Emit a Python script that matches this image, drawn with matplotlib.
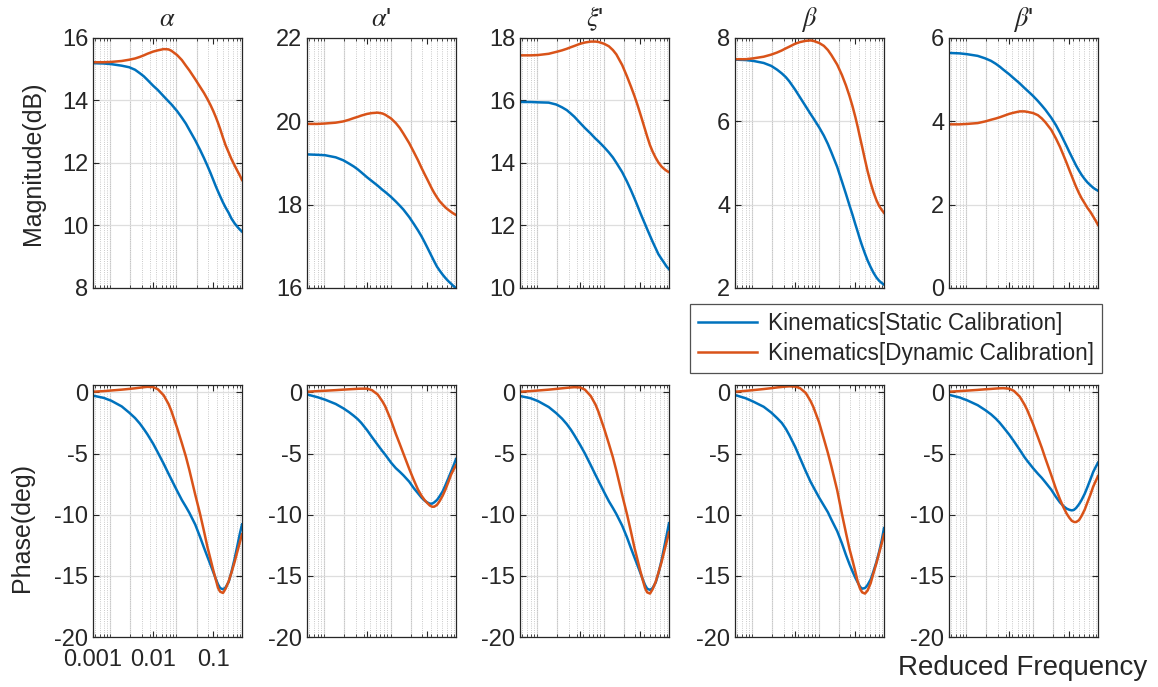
import numpy as np
import matplotlib.pyplot as plt
from matplotlib.ticker import NullFormatter, FixedLocator

plt.rcParams['font.family'] = ['Liberation Sans', 'DejaVu Sans']
plt.rcParams['mathtext.fontset'] = 'stix'
plt.rcParams['axes.unicode_minus'] = False

# ---------- data ----------
freq = [0.001, 0.0015, 0.002, 0.003, 0.004, 0.005, 0.006, 0.007, 0.008, 0.01,
        0.012, 0.015, 0.018, 0.02, 0.025, 0.03, 0.035, 0.04, 0.05, 0.06,
        0.07, 0.08, 0.09, 0.1, 0.11, 0.12, 0.13, 0.145, 0.16, 0.18,
        0.2, 0.225, 0.25, 0.275, 0.3]

titles = [r'$\alpha$', r"$\alpha$'", r"$\xi$'", r'$\beta$', r"$\beta$'"]

# magnitude (dB)
mag_static_alpha = [15.18, 15.17, 15.15, 15.10, 15.05, 14.97, 14.86, 14.76, 14.65, 14.46,
                    14.32, 14.12, 13.96, 13.87, 13.65, 13.44, 13.25, 13.05, 12.72, 12.42,
                    12.15, 11.90, 11.67, 11.45, 11.25, 11.08, 10.93, 10.73, 10.57, 10.40,
                    10.22, 10.07, 9.96, 9.87, 9.80]
mag_dynamic_alpha = [15.21, 15.21, 15.22, 15.25, 15.29, 15.33, 15.38, 15.43, 15.48, 15.55,
                     15.59, 15.63, 15.62, 15.58, 15.44, 15.28, 15.10, 14.95, 14.67, 14.43,
                     14.23, 14.03, 13.84, 13.65, 13.46, 13.27, 13.08, 12.80, 12.56, 12.33,
                     12.12, 11.92, 11.75, 11.60, 11.45]
mag_static_alphad = [19.20, 19.19, 19.18, 19.13, 19.06, 18.98, 18.91, 18.84, 18.77, 18.65,
                     18.56, 18.45, 18.35, 18.30, 18.18, 18.07, 17.97, 17.88, 17.70, 17.53,
                     17.38, 17.24, 17.10, 16.97, 16.85, 16.74, 16.64, 16.51, 16.42, 16.32,
                     16.24, 16.16, 16.10, 16.04, 16.00]
mag_dynamic_alphad = [19.93, 19.93, 19.94, 19.96, 19.99, 20.03, 20.07, 20.10, 20.13, 20.17,
                      20.19, 20.20, 20.18, 20.15, 20.06, 19.95, 19.83, 19.70, 19.47, 19.25,
                      19.06, 18.88, 18.73, 18.60, 18.48, 18.37, 18.28, 18.17, 18.08, 18.00,
                      17.93, 17.87, 17.82, 17.78, 17.75]
mag_static_xid = [15.94, 15.94, 15.93, 15.92, 15.86, 15.77, 15.68, 15.57, 15.47, 15.27,
                  15.11, 14.93, 14.77, 14.69, 14.50, 14.33, 14.17, 14.00, 13.70, 13.40,
                  13.12, 12.86, 12.62, 12.40, 12.21, 12.04, 11.88, 11.67, 11.48, 11.27,
                  11.08, 10.93, 10.80, 10.68, 10.60]
mag_dynamic_xid = [17.43, 17.43, 17.44, 17.48, 17.54, 17.59, 17.64, 17.69, 17.73, 17.80,
                   17.84, 17.87, 17.87, 17.86, 17.80, 17.72, 17.60, 17.46, 17.12, 16.76,
                   16.43, 16.13, 15.84, 15.56, 15.30, 15.06, 14.84, 14.56, 14.36, 14.16,
                   14.01, 13.88, 13.80, 13.74, 13.70]
mag_static_beta = [7.47, 7.46, 7.44, 7.39, 7.32, 7.23, 7.14, 7.05, 6.95, 6.75,
                   6.57, 6.35, 6.17, 6.07, 5.85, 5.65, 5.45, 5.25, 4.90, 4.55,
                   4.25, 3.98, 3.75, 3.53, 3.34, 3.16, 3.01, 2.82, 2.66, 2.50,
                   2.37, 2.25, 2.17, 2.12, 2.08]
mag_dynamic_beta = [7.48, 7.48, 7.50, 7.54, 7.59, 7.64, 7.69, 7.74, 7.78, 7.85,
                    7.89, 7.92, 7.93, 7.92, 7.87, 7.80, 7.70, 7.58, 7.35, 7.10,
                    6.85, 6.60, 6.35, 6.10, 5.85, 5.60, 5.38, 5.07, 4.80, 4.52,
                    4.30, 4.10, 3.96, 3.87, 3.80]
mag_static_betad = [5.63, 5.62, 5.60, 5.56, 5.50, 5.44, 5.37, 5.30, 5.23, 5.12,
                    5.02, 4.90, 4.79, 4.73, 4.60, 4.48, 4.37, 4.27, 4.08, 3.90,
                    3.72, 3.55, 3.40, 3.26, 3.14, 3.03, 2.93, 2.81, 2.71, 2.61,
                    2.53, 2.46, 2.40, 2.36, 2.33]
mag_dynamic_betad = [3.92, 3.92, 3.93, 3.95, 3.99, 4.03, 4.06, 4.09, 4.12, 4.17,
                     4.20, 4.23, 4.23, 4.22, 4.19, 4.14, 4.06, 3.97, 3.79, 3.58,
                     3.38, 3.18, 3.00, 2.83, 2.68, 2.54, 2.42, 2.27, 2.15, 2.03,
                     1.92, 1.82, 1.71, 1.61, 1.51]

# phase (deg)
ph_static_alpha = [-0.27, -0.45, -0.68, -1.15, -1.66, -2.10, -2.55, -3.00, -3.42, -4.20,
                   -4.93, -5.85, -6.65, -7.10, -8.05, -8.80, -9.35, -9.85, -10.80, -11.80,
                   -12.70, -13.45, -14.10, -14.70, -15.25, -15.70, -16.00, -16.10, -15.95, -15.50,
                   -14.70, -13.65, -12.60, -11.60, -10.80]
ph_dynamic_alpha = [0.05, 0.10, 0.15, 0.22, 0.28, 0.33, 0.38, 0.42, 0.45, 0.43,
                    0.25, -0.25, -0.95, -1.50, -2.90, -4.15, -5.25, -6.35, -8.35, -9.90,
                    -11.35, -12.65, -13.65, -14.55, -15.30, -16.00, -16.30, -16.40, -16.05, -15.45,
                    -14.75, -13.90, -13.05, -12.30, -11.60]
ph_static_alphad = [-0.17, -0.40, -0.60, -0.95, -1.30, -1.62, -1.92, -2.20, -2.50, -3.10,
                    -3.65, -4.30, -4.82, -5.10, -5.75, -6.20, -6.50, -6.78, -7.30, -7.85,
                    -8.25, -8.60, -8.85, -9.00, -9.10, -9.10, -9.00, -8.80, -8.50, -8.10,
                    -7.60, -7.00, -6.45, -5.95, -5.45]
ph_dynamic_alphad = [0.05, 0.10, 0.13, 0.18, 0.22, 0.25, 0.27, 0.29, 0.30, 0.30,
                     0.18, -0.18, -0.75, -1.15, -2.30, -3.40, -4.25, -5.00, -6.25, -7.20,
                     -7.95, -8.45, -8.80, -9.05, -9.25, -9.35, -9.35, -9.20, -8.90, -8.45,
                     -7.95, -7.30, -6.70, -6.30, -5.95]
ph_static_xid = [-0.30, -0.48, -0.72, -1.20, -1.70, -2.15, -2.60, -3.05, -3.50, -4.30,
                 -5.00, -5.95, -6.75, -7.20, -8.15, -8.90, -9.45, -9.95, -10.90, -11.85,
                 -12.75, -13.50, -14.15, -14.75, -15.30, -15.75, -16.05, -16.15, -16.00, -15.55,
                 -14.80, -13.75, -12.65, -11.65, -10.70]
ph_dynamic_xid = [0.05, 0.10, 0.15, 0.22, 0.28, 0.33, 0.37, 0.40, 0.42, 0.40,
                  0.22, -0.30, -1.00, -1.55, -2.95, -4.20, -5.30, -6.40, -8.40, -9.95,
                  -11.40, -12.70, -13.70, -14.60, -15.35, -16.00, -16.35, -16.45, -16.10, -15.50,
                  -14.75, -13.90, -13.00, -12.20, -11.45]
ph_static_beta = [-0.22, -0.48, -0.75, -1.18, -1.65, -2.10, -2.50, -2.98, -3.50, -4.45,
                  -5.35, -6.45, -7.30, -7.72, -8.60, -9.25, -9.80, -10.40, -11.35, -12.35,
                  -13.30, -14.05, -14.65, -15.15, -15.55, -15.90, -16.05, -16.00, -15.75, -15.30,
                  -14.65, -13.85, -13.00, -12.10, -11.10]
ph_dynamic_beta = [0.05, 0.12, 0.18, 0.27, 0.34, 0.40, 0.44, 0.47, 0.49, 0.47,
                   0.35, -0.05, -0.70, -1.18, -2.45, -3.80, -4.95, -6.05, -8.00, -9.95,
                   -11.50, -12.80, -13.75, -14.65, -15.50, -16.05, -16.35, -16.45, -16.20, -15.60,
                   -14.80, -13.95, -13.10, -12.35, -11.60]
ph_static_betad = [-0.20, -0.42, -0.65, -1.05, -1.45, -1.80, -2.15, -2.50, -2.85, -3.45,
                   -4.00, -4.70, -5.30, -5.60, -6.20, -6.65, -7.00, -7.35, -7.95, -8.55,
                   -9.00, -9.30, -9.50, -9.60, -9.65, -9.60, -9.45, -9.15, -8.80, -8.30,
                   -7.75, -7.10, -6.50, -6.10, -5.75]
ph_dynamic_betad = [0.05, 0.10, 0.14, 0.20, 0.25, 0.28, 0.31, 0.33, 0.34, 0.30,
                    0.12, -0.35, -1.00, -1.45, -2.60, -3.65, -4.55, -5.40, -6.75, -7.90,
                    -8.75, -9.40, -9.90, -10.25, -10.50, -10.60, -10.60, -10.45, -10.10, -9.60,
                    -9.00, -8.35, -7.70, -7.25, -6.85]

mag_static = [mag_static_alpha, mag_static_alphad, mag_static_xid, mag_static_beta, mag_static_betad]
mag_dynamic = [mag_dynamic_alpha, mag_dynamic_alphad, mag_dynamic_xid, mag_dynamic_beta, mag_dynamic_betad]
ph_static = [ph_static_alpha, ph_static_alphad, ph_static_xid, ph_static_beta, ph_static_betad]
ph_dynamic = [ph_dynamic_alpha, ph_dynamic_alphad, ph_dynamic_xid, ph_dynamic_beta, ph_dynamic_betad]

mag_ylims = [(8, 16), (16, 22), (10, 18), (2, 8), (0, 6)]

C_STATIC = '#0072BD'
C_DYNAMIC = '#D95319'
TXT = '#262626'

# ---------- figure ----------
W, H = 1158, 687
fig = plt.figure(figsize=(W / 100, H / 100), dpi=100)

lefts = [93, 307, 520, 735, 949]
aw = 149
XMIN, XMAX = 0.001, 0.3

# grid/tick positions: log-decade pattern as it sits in the original plot
dec_px, first_dec = 66.5, 17.0
minor_off, solid_off = [], []
for j in range(-1, 3):
    for m in range(1, 10):
        o = first_dec + dec_px * (j + np.log10(m))
        if 0 < o < aw:
            minor_off.append(o)
            if m in (1, 2):
                solid_off.append(o)


def off_to_x(o):
    return XMIN * 10 ** (o / aw * np.log10(XMAX / XMIN))


minor_pos = [off_to_x(o) for o in minor_off]
solid_pos = [off_to_x(o) for o in solid_off]


def style_axes(ax):
    ax.set_xscale('log')
    ax.set_xlim(XMIN, XMAX)
    ax.xaxis.set_major_locator(FixedLocator([0.001, 0.01, 0.1]))
    ax.xaxis.set_minor_locator(FixedLocator(minor_pos))
    ax.xaxis.set_minor_formatter(NullFormatter())
    ax.grid(True, which='major', axis='y', color='#dedede', linewidth=0.9, linestyle='-')
    ax.grid(True, which='minor', axis='x', color='#b8b8b8', linewidth=0.6, linestyle=':')
    for xp in solid_pos:
        ax.axvline(xp, color='#e0e0e0', linewidth=0.9, zorder=0.5)
    ax.set_axisbelow(True)
    ax.tick_params(which='both', direction='in', top=True, right=True,
                   colors=TXT, labelsize=17)
    ax.tick_params(which='major', length=4, width=0.8)
    ax.tick_params(which='minor', length=2.5, width=0.6)
    for s in ax.spines.values():
        s.set_color(TXT)
        s.set_linewidth(0.9)


for i in range(5):
    # magnitude row
    ax = fig.add_axes([lefts[i] / W, 1 - 288 / H, aw / W, 250.5 / H])
    style_axes(ax)
    l1, = ax.plot(freq, mag_static[i], color=C_STATIC, linewidth=1.8)
    l2, = ax.plot(freq, mag_dynamic[i], color=C_DYNAMIC, linewidth=1.8)
    lo, hi = mag_ylims[i]
    ax.set_ylim(lo, hi)
    ax.set_yticks(np.arange(lo, hi + 0.1, 2))
    ax.set_xticklabels([])
    ax.set_title(titles[i], fontsize=19, color=TXT, pad=8)

    # phase row
    axp = fig.add_axes([lefts[i] / W, 1 - 637 / H, aw / W, 252 / H])
    style_axes(axp)
    axp.plot(freq, ph_static[i], color=C_STATIC, linewidth=1.8)
    axp.plot(freq, ph_dynamic[i], color=C_DYNAMIC, linewidth=1.8)
    axp.set_ylim(-20, 0.6)
    axp.set_yticks([-20, -15, -10, -5, 0])
    if i == 0:
        axp.set_xticklabels(['0.001', '0.01', '0.1'])
        axp.tick_params(axis='x', pad=9)
    else:
        axp.set_xticklabels([])

fig.text(33 / W, 1 - 163 / H, 'Magnitude(dB)', rotation=90, fontsize=18,
         color=TXT, ha='center', va='center')
fig.text(22 / W, 1 - 528 / H, 'Phase(deg)', rotation=90, fontsize=18,
         color=TXT, ha='center', va='center')
fig.text(1023 / W, 1 - 668 / H, 'Reduced Frequency', fontsize=20,
         color=TXT, ha='center', va='center')

leg = fig.legend([l1, l2], ['Kinematics[Static Calibration]', 'Kinematics[Dynamic Calibration]'],
                 loc='center', bbox_to_anchor=(896 / W, 1 - 338.5 / H),
                 fontsize=16.3, frameon=True, fancybox=False, handlelength=2.6,
                 borderpad=0.35, labelspacing=0.3, handletextpad=0.5)
leg.get_frame().set_edgecolor(TXT)
leg.get_frame().set_linewidth(0.9)
for t in leg.get_texts():
    t.set_color(TXT)

fig.savefig('out.png', dpi=100)
